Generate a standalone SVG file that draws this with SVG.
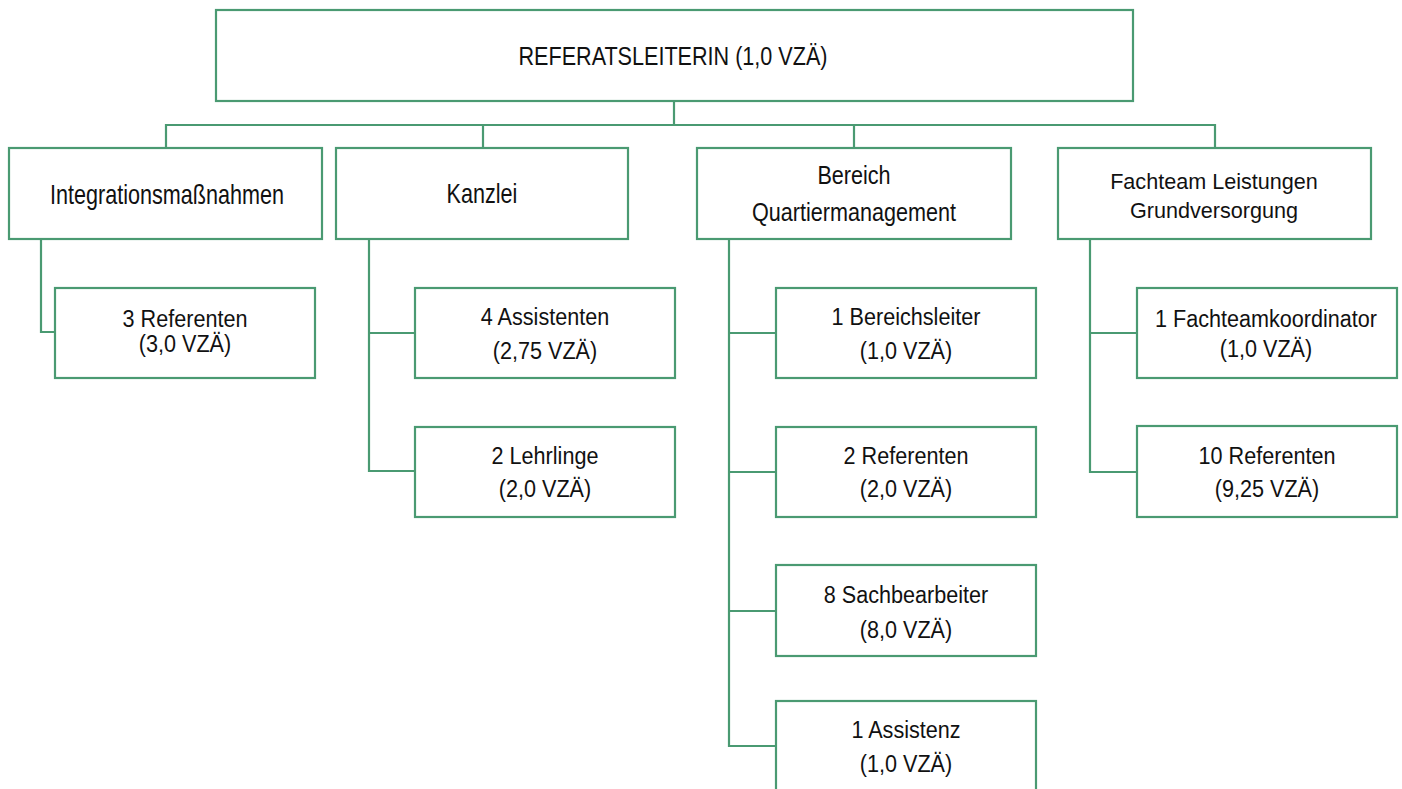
<svg xmlns="http://www.w3.org/2000/svg" width="1402" height="789" viewBox="0 0 1402 789">
<style>
.box{fill:#fff;stroke:#4a9a72;stroke-width:2.2}
.con{fill:none;stroke:#4a9a72;stroke-width:2.2}
text{font-family:"Liberation Sans",Arial,sans-serif;font-size:21.6px;text-anchor:middle;fill:#111}
</style>
<rect width="1402" height="789" fill="#fff"/>
<g id="connectors">
<path class="con" d="M674 101V125M166 148V125H1215V148M483 125V148M854 125V148"/>
<path class="con" d="M41 239V332H55"/>
<path class="con" d="M369 239V471H415M369 333H415"/>
<path class="con" d="M729 239V746H776M729 333H776M729 472H776M729 611H776"/>
<path class="con" d="M1090 239V472H1137M1090 333H1137"/>
</g>
<g id="top">
<rect class="box" x="216" y="10" width="917" height="91"/>
<text transform="translate(673,65) scale(1,1.18)">REFERATSLEITERIN (1,0 VZÄ)</text>
</g>
<g id="integration">
<rect class="box" x="9" y="148" width="313" height="91"/>
<text transform="translate(167,204) scale(1,1.25)">Integrationsmaßnahmen</text>
</g>
<g id="kanzlei">
<rect class="box" x="336" y="148" width="292" height="91"/>
<text transform="translate(482,203) scale(1,1.27)">Kanzlei</text>
</g>
<g id="quartier">
<rect class="box" x="697" y="148" width="314" height="91"/>
<text transform="translate(854,184) scale(1,1.16)">Bereich</text>
<text transform="translate(854,221) scale(1,1.16)">Quartiermanagement</text>
</g>
<g id="fachteam">
<rect class="box" x="1058" y="148" width="313" height="91"/>
<text transform="translate(1214,189) scale(1,1.06)">Fachteam Leistungen</text>
<text transform="translate(1214,218) scale(1,1.06)">Grundversorgung</text>
</g>
<g id="referenten3">
<rect class="box" x="55" y="288" width="260" height="90"/>
<text transform="translate(185,327) scale(1,1.08)">3 Referenten</text>
<text transform="translate(185,352) scale(1,1.08)">(3,0 VZÄ)</text>
</g>
<g id="assistenten4">
<rect class="box" x="415" y="288" width="260" height="90"/>
<text transform="translate(545,325) scale(1,1.08)">4 Assistenten</text>
<text transform="translate(545,359) scale(1,1.08)">(2,75 VZÄ)</text>
</g>
<g id="lehrlinge2">
<rect class="box" x="415" y="427" width="260" height="90"/>
<text transform="translate(545,464) scale(1,1.08)">2 Lehrlinge</text>
<text transform="translate(545,497) scale(1,1.08)">(2,0 VZÄ)</text>
</g>
<g id="bereichsleiter1">
<rect class="box" x="776" y="288" width="260" height="90"/>
<text transform="translate(906,325) scale(1,1.08)">1 Bereichsleiter</text>
<text transform="translate(906,359) scale(1,1.08)">(1,0 VZÄ)</text>
</g>
<g id="referenten2">
<rect class="box" x="776" y="427" width="260" height="90"/>
<text transform="translate(906,464) scale(1,1.08)">2 Referenten</text>
<text transform="translate(906,497) scale(1,1.08)">(2,0 VZÄ)</text>
</g>
<g id="sachbearbeiter8">
<rect class="box" x="776" y="565" width="260" height="91"/>
<text transform="translate(906,603) scale(1,1.08)">8 Sachbearbeiter</text>
<text transform="translate(906,638) scale(1,1.08)">(8,0 VZÄ)</text>
</g>
<g id="assistenz1">
<rect class="box" x="776" y="701" width="260" height="100"/>
<text transform="translate(906,738) scale(1,1.08)">1 Assistenz</text>
<text transform="translate(906,772) scale(1,1.08)">(1,0 VZÄ)</text>
</g>
<g id="fachteamkoordinator1">
<rect class="box" x="1137" y="288" width="260" height="90"/>
<text transform="translate(1266,327) scale(1,1.08)">1 Fachteamkoordinator</text>
<text transform="translate(1266,357) scale(1,1.08)">(1,0 VZÄ)</text>
</g>
<g id="referenten10">
<rect class="box" x="1137" y="426" width="260" height="91"/>
<text transform="translate(1267,464) scale(1,1.08)">10 Referenten</text>
<text transform="translate(1267,497) scale(1,1.08)">(9,25 VZÄ)</text>
</g>
</svg>
